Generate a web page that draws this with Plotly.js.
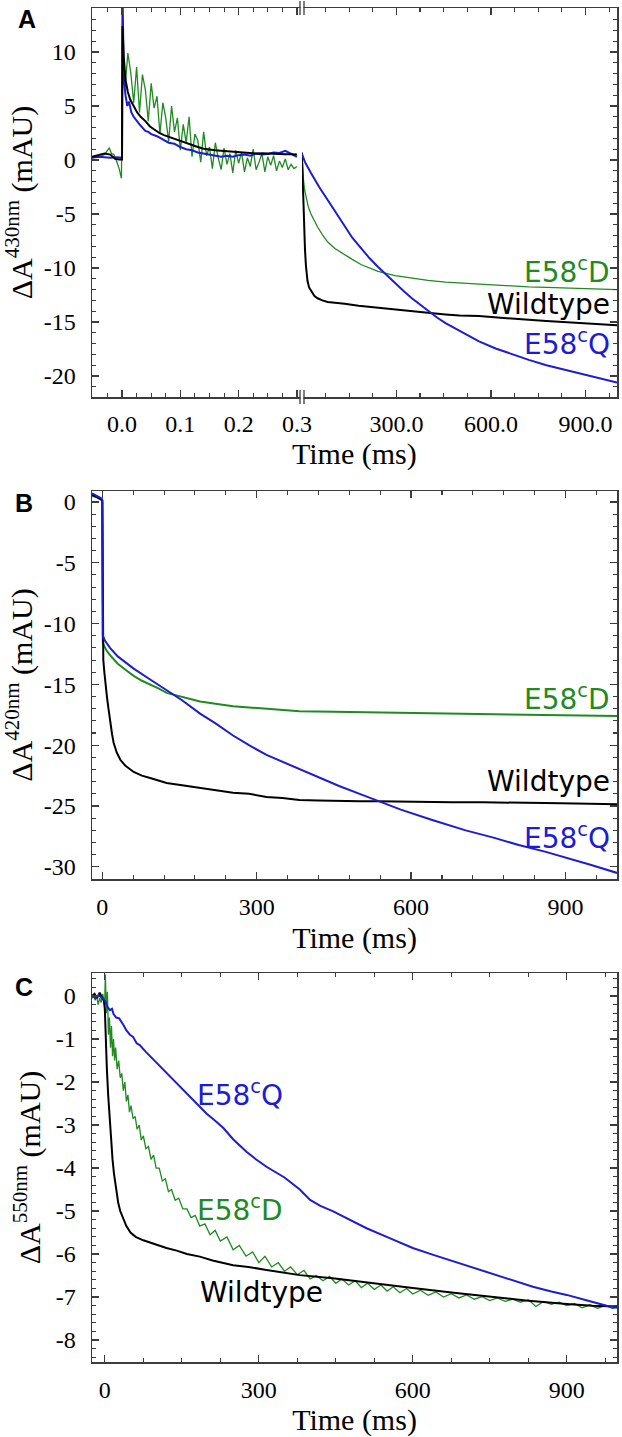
<!DOCTYPE html>
<html>
<head>
<meta charset="utf-8">
<script src="https://cdn.plot.ly/plotly-3.0.1.min.js"></script>
<style>
html,body{margin:0;padding:0;background:#fff;}
.panel{width:622px;display:block;margin:0;padding:0;}
#panelA{height:470px;} #panelB{height:485px;} #panelC{height:482px;}
</style>
</head>
<body>
<div id="panelA" class="panel"></div>
<div id="panelB" class="panel"></div>
<div id="panelC" class="panel"></div>
<script>
// ---------- Panel A, left segment (0 - 0.3 ms scale) ----------
const aL_t_black = [-0.052,-0.04,-0.03,-0.02,-0.012,-0.005,0.0,0.0008,0.003,0.006,
  0.01,0.014,0.02,0.026,0.032,0.04,0.048,0.056,0.064,0.072,
  0.08,0.09,0.1,0.11,0.12,0.13,0.14,0.15,0.16,0.17,
  0.18,0.19,0.2,0.21,0.22,0.23,0.24,0.25,0.26,0.27,
  0.28,0.29,0.3];
const aL_black = [0.3,0.5,0.6,0.5,0.1,0.05,0.05,12.4,9.5,7.4,
  6.3,5.6,5.0,4.4,4.0,3.6,3.1,2.8,2.5,2.3,
  2.15,1.95,1.75,1.55,1.35,1.2,1.05,0.95,0.9,0.85,
  0.8,0.75,0.7,0.68,0.62,0.6,0.62,0.58,0.55,0.56,
  0.52,0.54,0.5];
const aL_t_blue = [-0.052,-0.04,-0.03,-0.02,-0.01,0.0,0.0008,0.003,0.006,0.009,
  0.012,0.016,0.02,0.025,0.03,0.035,0.04,0.045,0.05,0.06,
  0.07,0.08,0.09,0.1,0.11,0.12,0.13,0.14,0.15,0.16,
  0.17,0.18,0.19,0.2,0.21,0.22,0.23,0.24,0.25,0.26,
  0.27,0.28,0.29,0.3];
const aL_blue = [0.2,0.3,0.25,0.2,0.25,0.2,16,7.5,6.0,5.0,
  5.4,4.4,4.0,3.6,3.3,3.0,2.7,2.6,2.4,2.2,
  1.9,1.6,1.5,1.2,1.0,0.9,0.7,0.6,0.5,0.35,
  0.3,0.4,0.3,0.45,0.5,0.4,0.6,0.5,0.55,0.7,
  0.65,0.85,0.6,0.3];
const aL_t_green = [-0.052,-0.045,-0.04,-0.035,-0.03,-0.025,-0.022,-0.018,-0.014,-0.01,-0.005,-0.001,
  0.001,
  0.005,0.010,0.015,0.020,0.025,0.030,0.035,0.040,0.045,0.050,
  0.055,0.060,0.065,0.070,0.075,0.080,0.085,0.090,0.095,0.100,
  0.105,0.110,0.115,0.120,0.125,0.130,0.135,0.140,0.145,0.150,
  0.155,0.160,0.165,0.170,0.175,0.180,0.185,0.190,0.195,0.200,
  0.205,0.210,0.215,0.220,0.225,0.230,0.235,0.240,0.245,0.250,
  0.255,0.260,0.265,0.270,0.275,0.280,0.285,0.290,0.295,0.300];
const aL_green = [0.2,0.3,0.25,0.4,0.5,0.9,1.1,0.6,0.5,0.0,-0.8,-1.7,
  11.0,
  6.6,9.9,8.1,5.3,8.6,4.4,7.9,6.5,3.6,7.1,
  4.8,5.9,2.4,5.3,3.9,1.7,5.0,2.6,3.9,0.9,
  3.3,1.6,4.0,0.3,2.4,1.8,-0.2,2.6,0.4,1.2,
  -0.8,1.6,0.2,-0.9,1.1,-0.4,0.6,-1.2,0.9,-0.3,
  0.7,-1.1,0.2,-0.6,1.0,-0.9,-0.2,0.6,-1.1,0.3,
  -0.5,0.4,-1.0,-0.1,-0.7,0.1,-0.9,-0.4,-0.8,-0.6];

// ---------- Panel A, right segment (ms) ----------
const aR_t_black = [0,2,4,6,8,10,13,18,23,29,40,50,65,82,100,136,180,242,300,349,
  400,456,500,562,600,669,720,776,830,882,940,1000];
const aR_black = [0.7,-1.5,-3.5,-5.5,-7.0,-8.3,-9.8,-11.2,-11.8,-12.1,-12.6,-12.8,-13.0,-13.15,-13.2,-13.3,-13.5,-13.7,-13.85,-14.0,
  -14.15,-14.3,-14.4,-14.45,-14.55,-14.7,-14.8,-14.9,-15.0,-15.1,-15.2,-15.3];
const aR_t_green = [0,2,5,9,14,20,29,40,50,65,82,105,136,160,189,215,242,296,349,400,
  456,510,562,615,669,720,776,830,882,940,1000];
const aR_green = [0.7,-0.5,-1.8,-2.8,-3.6,-4.3,-5.0,-5.7,-6.2,-6.9,-7.6,-8.2,-8.8,-9.2,-9.7,-10.0,-10.3,-10.7,-10.95,-11.15,
  -11.3,-11.4,-11.5,-11.6,-11.7,-11.75,-11.8,-11.85,-11.9,-11.95,-12.0];
const aR_t_blue = [0,10,29,55,82,110,136,160,189,215,242,270,296,322,349,375,402,430,456,510,
  562,615,669,720,776,830,882,940,1000];
const aR_blue = [0.6,-0.2,-1.2,-2.5,-3.7,-5.0,-6.2,-7.2,-8.2,-9.1,-9.9,-10.7,-11.4,-12.1,-12.8,-13.4,-14.0,-14.6,-15.1,-16.0,
  -16.8,-17.45,-18.0,-18.5,-19.0,-19.4,-19.75,-20.2,-20.6];

// ---------- Panel B (ms) ----------
const b_t_black = [-20,-10,-2,0,1,2,4,6,9,12,15.5,19,22,28,35,45,61,77,93,110,
  125,155,190,220,254,285,319,350,383,420,460,500,534,580,620,680,740,800,860,920,1000];
const b_black = [0.6,0.4,0.2,0.1,-12.0,-13.0,-14.0,-15.0,-16.0,-17.0,-18.2,-19.1,-19.8,-20.6,-21.2,-21.7,-22.2,-22.5,-22.7,-22.9,
  -23.1,-23.3,-23.5,-23.7,-23.9,-24.0,-24.25,-24.35,-24.5,-24.55,-24.6,-24.6,-24.6,-24.65,-24.65,-24.7,-24.7,-24.7,-24.75,-24.8,-24.85];
const b_t_green = [-20,-10,-2,0,1,3,8,15,30,45,61,77,93,110,125,155,190,220,254,285,
  319,350,383,450,534,600,680,760,840,920,1000];
const b_green = [0.5,0.4,0.2,0.0,-11.6,-11.8,-12.2,-12.6,-13.3,-13.8,-14.3,-14.7,-15.0,-15.35,-15.7,-16.0,-16.4,-16.6,-16.8,-16.9,
  -17.0,-17.1,-17.2,-17.25,-17.3,-17.35,-17.4,-17.45,-17.5,-17.55,-17.6];
const b_t_blue = [-20,-10,-2,0,1,5,15,30,61,93,125,155,190,220,254,285,319,350,383,420,
  460,500,534,580,641,706,760,809,860,899,950,1000];
const b_blue = [0.7,0.5,0.3,0.2,-11.0,-11.4,-12.0,-12.7,-13.7,-14.6,-15.5,-16.3,-17.4,-18.2,-19.2,-20.0,-20.8,-21.35,-22.0,-22.65,
  -23.35,-24.0,-24.55,-25.3,-26.15,-27.0,-27.6,-28.2,-28.75,-29.2,-29.85,-30.5];

// ---------- Panel C (ms) ----------
const c_t_black = [-25,-20,-15,-10,-5,-2,0,2,4,6.5,9,11,13,15,18,22,26,30,36,42,
  50,60,75,90,105,120,140,160,185,210,250,280,315,350,380,444,520,600,680,748,
  820,900,950,1000];
const c_black = [0.0,0.05,-0.05,0.08,-0.05,-0.1,-0.3,-1.1,-1.7,-2.3,-2.8,-3.2,-3.5,-3.8,-4.15,-4.5,-4.8,-5.0,-5.2,-5.35,
  -5.5,-5.6,-5.68,-5.74,-5.8,-5.86,-5.92,-6.0,-6.06,-6.15,-6.26,-6.3,-6.37,-6.43,-6.49,-6.56,-6.68,-6.79,-6.9,-6.99,
  -7.08,-7.16,-7.2,-7.22];
const c_t_blue = [-25,-18,-12,-6,0,5,10,14,17,22,28,36,42,49,55,62,68,80,90,100,
  115,133,150,166,182,198,215,231,250,276,295,315,350,380,400,420,444,480,510,555,
  600,640,672,710,748,790,834,870,900,940,978,1000];
const c_blue = [0.0,-0.05,0.02,-0.05,-0.1,-0.25,-0.33,-0.3,-0.42,-0.5,-0.52,-0.67,-0.8,-0.9,-0.95,-1.1,-1.14,-1.3,-1.42,-1.56,
  -1.72,-1.95,-2.15,-2.34,-2.53,-2.73,-2.9,-3.07,-3.33,-3.62,-3.8,-3.97,-4.22,-4.5,-4.74,-4.88,-5.0,-5.22,-5.4,-5.63,
  -5.86,-6.02,-6.14,-6.3,-6.44,-6.6,-6.76,-6.87,-6.95,-7.08,-7.2,-7.25];
const c_t_green = [-25,-22,-19,-16,-13,-10,-7,-4,-2,0,
  1,3,5,7,9,11,13,15,17,19,21,24,27,30,33,36,39,42,45,48,
  51,55,59,63,67,71,75,80,85,90,95,100,106,112,118,124,130,137,144,152,
  160,168,176,185,195,205,215,225,238,250,262,275,288,300,312,325,338,350,362,375,
  388,400,412,425,438,450,462,475,488,500,512,525,538,550,562,575,588,600,615,630,
  645,660,675,690,705,720,735,750,765,780,795,810,825,840,855,870,885,900,915,930,
  945,960,975,990,1000];
const c_green = [-0.05,0.05,-0.1,0.0,-0.2,-0.05,-0.15,0.05,-0.1,-0.05,
  0.5,-0.4,0.1,-0.9,-0.5,-1.2,-0.7,-1.4,-1.0,-1.5,-1.2,-1.7,-1.5,-1.9,-1.8,-2.2,-2.0,-2.45,-2.3,-2.7,
  -2.55,-2.85,-2.8,-3.1,-3.0,-3.35,-3.25,-3.55,-3.5,-3.8,-3.7,-4.0,-4.0,-4.3,-4.25,-4.55,-4.5,-4.75,-4.7,-4.95,
  -4.95,-5.15,-5.1,-5.35,-5.3,-5.55,-5.45,-5.7,-5.6,-5.9,-5.8,-6.05,-5.95,-6.2,-6.05,-6.3,-6.2,-6.4,-6.3,-6.48,
  -6.38,-6.58,-6.5,-6.62,-6.52,-6.68,-6.58,-6.72,-6.62,-6.78,-6.68,-6.82,-6.72,-6.86,-6.76,-6.9,-6.8,-6.93,-6.84,-6.96,
  -6.88,-7.0,-6.92,-7.02,-6.95,-7.05,-6.99,-7.08,-7.02,-7.1,-7.05,-7.12,-7.06,-7.22,-7.1,-7.17,-7.12,-7.2,-7.15,-7.25,
  -7.18,-7.26,-7.2,-7.27,-7.22];

// ---------- Tick labels shown with a plain hyphen ----------
const a_yticktext = ['-5', '-10', '-15', '-20'];
const b_yticktext = ['-5', '-10', '-15', '-20', '-25', '-30'];
const c_yticktext = ['-1', '-2', '-3', '-4', '-5', '-6', '-7', '-8'];
const hyphenAlias = labels => {
  const o = {};
  labels.forEach(s => { o['\u2212' + s.slice(1)] = s; });
  return o;
};

// ---------- Styling ----------
const W = 622;
const fx = v => v / W;
const GREEN = '#1f8a1f', BLUE = '#1c1cd2', BLACK = '#000000';
const AXC = '#3c3c3c';
const SERIF = 'Liberation Serif, Times New Roman, serif';
const SANS = 'DejaVu Sans, Verdana, sans-serif';
const BOLDSANS = 'Liberation Sans, Arial, sans-serif';

function traceLine(x, y, color, width, xa, ya) {
  return {x: x, y: y, type: 'scatter', mode: 'lines', xaxis: xa, yaxis: ya,
    line: {color: color, width: width}, hoverinfo: 'skip'};
}
function makeAxis(o) {
  return Object.assign({
    showline: true, linecolor: AXC, linewidth: 1.5, mirror: 'ticks',
    ticks: 'inside', ticklen: 7, tickwidth: 1.3, tickcolor: AXC,
    showgrid: false, zeroline: false,
    tickfont: {family: SERIF, size: 24, color: '#000'},
    tickmode: 'linear', tick0: 0, fixedrange: true
  }, o);
}
function makeMinor(d) {
  return {ticks: 'inside', ticklen: 4, dtick: d, tick0: 0, tickcolor: AXC, tickwidth: 1.1};
}
const titleFont = () => ({family: SERIF, size: 30, color: '#000'});
const yTitle = nm => ({text: 'ΔA<sup>' + nm + '</sup> (mAU)', font: titleFont(), standoff: 6});
const label = (text, xref, yref, x, y, xanchor, color) => ({text: text, xref: xref, yref: yref, x: x, y: y,
  showarrow: false, xanchor: xanchor, yanchor: 'middle', font: {family: SANS, size: 28, color: color}});
const letter = (t, x, y) => ({text: '<b>' + t + '</b>', xref: 'paper', yref: 'paper', x: x, y: y,
  showarrow: false, xanchor: 'center', yanchor: 'middle', font: {family: BOLDSANS, size: 25, color: '#000'}});
const cfg = {staticPlot: true, displayModeBar: false};

// ---------- Panel A (div 0..470 px) ----------
(function () {
  const HH = 470, fy = v => 1 - v / HH;
  const traces = [
    traceLine(aL_t_green, aL_green, GREEN, 1.3, 'x', 'y'),
    traceLine(aL_t_blue, aL_blue, BLUE, 2, 'x', 'y'),
    traceLine(aL_t_black, aL_black, BLACK, 2, 'x', 'y'),
    traceLine(aR_t_green, aR_green, GREEN, 1.3, 'x2', 'y2'),
    traceLine(aR_t_black, aR_black, BLACK, 2, 'x2', 'y2'),
    traceLine(aR_t_blue, aR_blue, BLUE, 2, 'x2', 'y2')
  ];
  const layout = {
    width: W, height: HH, margin: {l: 0, r: 0, t: 0, b: 0}, showlegend: false,
    xaxis: makeAxis({domain: [fx(92), fx(302)], range: [-0.0515, 0.3087], anchor: 'y',
      dtick: 0.1, tickformat: '.1f', ticklabelstandoff: 5, minor: makeMinor(0.025)}),
    xaxis2: makeAxis({domain: [fx(302), fx(617)], range: [0.5, 1000], anchor: 'y2',
      dtick: 300, tickformat: '.1f', ticklabelstandoff: 5, minor: makeMinor(75)}),
    yaxis: makeAxis({domain: [fy(397), fy(8)], range: [-21.94, 14.07], anchor: 'x', mirror: false,
      dtick: 5, tickformat: 'd', ticklabelstandoff: 10, labelalias: hyphenAlias(a_yticktext),
      minor: makeMinor(1), title: yTitle('430nm')}),
    yaxis2: makeAxis({domain: [fy(397), fy(8)], range: [-21.94, 14.07], anchor: 'x2', side: 'right', mirror: false,
      dtick: 5, showticklabels: false, minor: makeMinor(1)}),
    shapes: [
      {type: 'rect', xref: 'paper', yref: 'paper', x0: fx(300.5), x1: fx(303.5), y0: fy(399), y1: fy(395), fillcolor: '#fff', line: {width: 0}},
      {type: 'rect', xref: 'paper', yref: 'paper', x0: fx(300.5), x1: fx(303.5), y0: fy(10), y1: fy(6), fillcolor: '#fff', line: {width: 0}},
      {type: 'line', xref: 'paper', yref: 'paper', x0: fx(300), x1: fx(300), y0: fy(404), y1: fy(390), line: {color: AXC, width: 1.3}},
      {type: 'line', xref: 'paper', yref: 'paper', x0: fx(304), x1: fx(304), y0: fy(404), y1: fy(390), line: {color: AXC, width: 1.3}},
      {type: 'line', xref: 'paper', yref: 'paper', x0: fx(300), x1: fx(300), y0: fy(15), y1: fy(1), line: {color: AXC, width: 1.3}},
      {type: 'line', xref: 'paper', yref: 'paper', x0: fx(304), x1: fx(304), y0: fy(15), y1: fy(1), line: {color: AXC, width: 1.3}}
    ],
    annotations: [
      letter('A', fx(27), fy(19)),
      {text: 'Time (ms)', xref: 'paper', yref: 'paper', x: fx(354.5), y: fy(454), showarrow: false,
        xanchor: 'center', yanchor: 'middle', font: titleFont()},
      label('E58<sup>c</sup>D', 'paper', 'y2', fx(612), -10.2, 'right', GREEN),
      label('Wildtype', 'paper', 'y2', fx(612), -13.4, 'right', BLACK),
      label('E58<sup>c</sup>Q', 'paper', 'y2', fx(612), -16.9, 'right', BLUE)
    ]
  };
  Plotly.newPlot('panelA', traces, layout, cfg);
})();

// ---------- Panel B (div 470..955 px) ----------
(function () {
  const TOP = 470, HH = 485, fy = v => 1 - (v - TOP) / HH;
  const traces = [
    traceLine(b_t_green, b_green, GREEN, 2, 'x', 'y'),
    traceLine(b_t_black, b_black, BLACK, 2, 'x', 'y'),
    traceLine(b_t_blue, b_blue, BLUE, 2, 'x', 'y')
  ];
  const layout = {
    width: W, height: HH, margin: {l: 0, r: 0, t: 0, b: 0}, showlegend: false,
    xaxis: makeAxis({domain: [fx(92), fx(617)], range: [-20, 1000], anchor: 'y',
      dtick: 300, tickformat: 'd', ticklabelstandoff: 6, minor: makeMinor(60),
      title: {text: 'Time (ms)', font: titleFont(), standoff: 8}}),
    yaxis: makeAxis({domain: [fy(879), fy(491)], range: [-31.0, 0.9], anchor: 'x',
      dtick: 5, tickformat: 'd', ticklabelstandoff: 10, labelalias: hyphenAlias(b_yticktext),
      minor: makeMinor(1), title: yTitle('420nm')}),
    annotations: [
      letter('B', fx(24), fy(503)),
      label('E58<sup>c</sup>D', 'paper', 'y', fx(612), -16.1, 'right', GREEN),
      label('Wildtype', 'paper', 'y', fx(612), -23.0, 'right', BLACK),
      label('E58<sup>c</sup>Q', 'paper', 'y', fx(612), -27.5, 'right', BLUE)
    ]
  };
  Plotly.newPlot('panelB', traces, layout, cfg);
})();

// ---------- Panel C (div 955..1437 px) ----------
(function () {
  const TOP = 955, HH = 482, fy = v => 1 - (v - TOP) / HH;
  const traces = [
    traceLine(c_t_green, c_green, GREEN, 1.3, 'x', 'y'),
    traceLine(c_t_black, c_black, BLACK, 2, 'x', 'y'),
    traceLine(c_t_blue, c_blue, BLUE, 2, 'x', 'y')
  ];
  const layout = {
    width: W, height: HH, margin: {l: 0, r: 0, t: 0, b: 0}, showlegend: false,
    xaxis: makeAxis({domain: [fx(92), fx(617)], range: [-25, 998], anchor: 'y',
      dtick: 300, tickformat: 'd', ticklabelstandoff: 6, minor: makeMinor(75),
      title: {text: 'Time (ms)', font: titleFont(), standoff: 8}}),
    yaxis: makeAxis({domain: [fy(1362), fy(973)], range: [-8.51, 0.535], anchor: 'x',
      dtick: 1, tickformat: 'd', ticklabelstandoff: 10, labelalias: hyphenAlias(c_yticktext),
      minor: makeMinor(0.2), title: yTitle('550nm')}),
    annotations: [
      letter('C', fx(24), fy(987)),
      label('E58<sup>c</sup>Q', 'x', 'y', 175, -2.26, 'left', BLUE),
      label('E58<sup>c</sup>D', 'x', 'y', 175, -4.93, 'left', GREEN),
      label('Wildtype', 'x', 'y', 181, -6.9, 'left', BLACK)
    ]
  };
  Plotly.newPlot('panelC', traces, layout, cfg);
})();
</script>
</body>
</html>
